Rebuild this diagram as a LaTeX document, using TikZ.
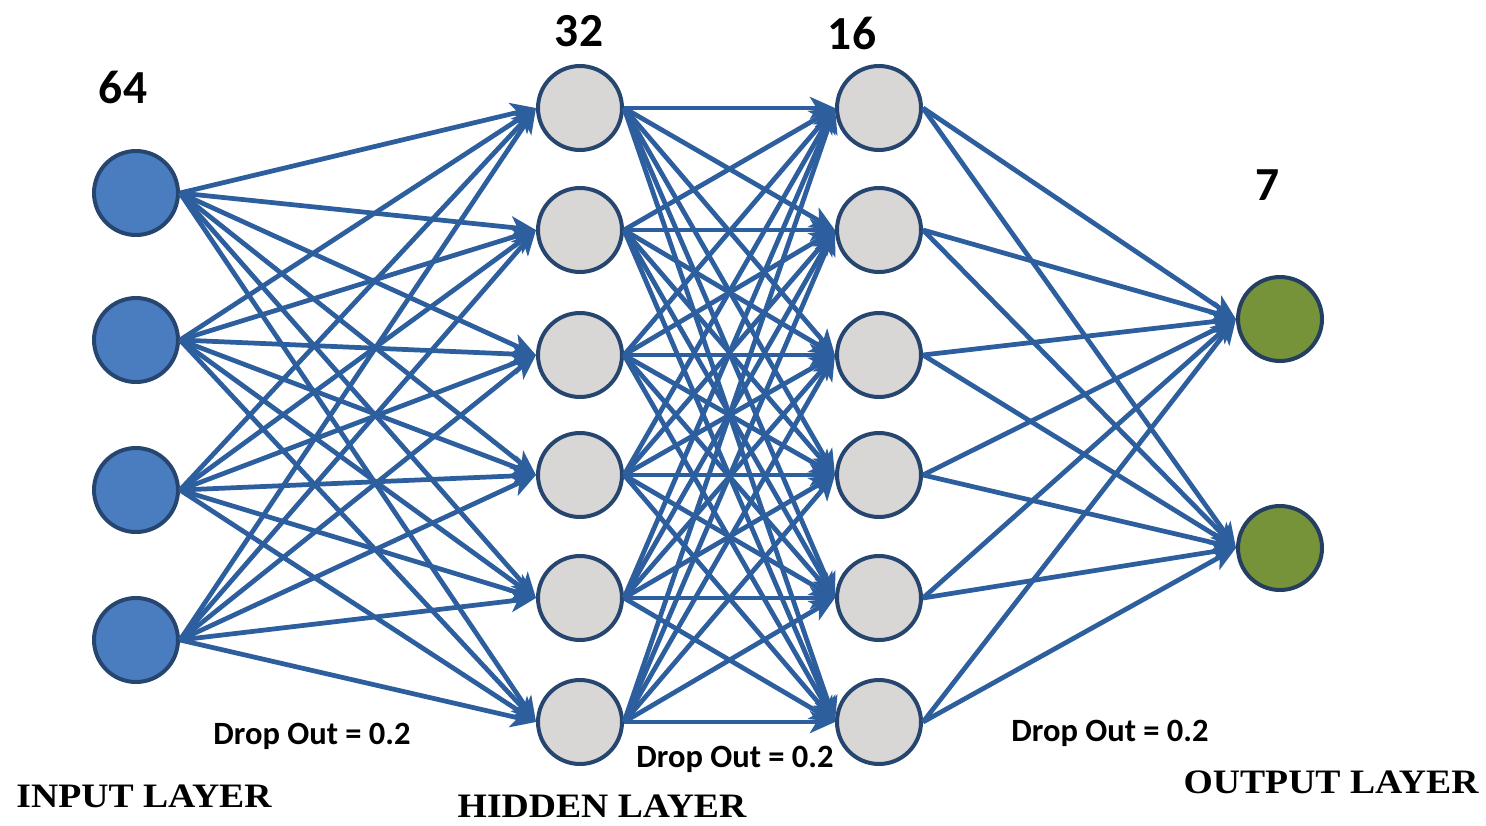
\documentclass[tikz,border=0pt]{standalone}
\usepackage{fontspec}
\setmainfont{Liberation Serif}
\newfontfamily\labelfont{Carlito}
\usetikzlibrary{arrows.meta}
\definecolor{edgeblue}{HTML}{2D5E9E}
\definecolor{ringblue}{HTML}{264670}
\definecolor{inblue}{HTML}{4A7DC0}
\definecolor{hidgray}{HTML}{D9D7D5}
\definecolor{outgreen}{HTML}{76933A}
\definecolor{outring}{HTML}{243F62}
\begin{document}
\begin{tikzpicture}[x=0.02cm,y=-0.02cm,
  neuron/.style={circle, minimum size=1.68cm, inner sep=0pt, line width=0.08cm, draw=ringblue},
  inneuron/.style={neuron, fill=inblue},
  hidneuron/.style={neuron, fill=hidgray},
  outneuron/.style={neuron, fill=outgreen, draw=outring},
  link/.style={draw=edgeblue, line width=0.095cm, -{Stealth[length=0.5cm,width=0.44cm,inset=0.13cm]}},
  count/.style={font=\labelfont\bfseries\fontsize{27}{30}\selectfont, inner sep=0pt},
  drop/.style={font=\labelfont\bfseries\fontsize{18.5}{21}\selectfont, inner sep=0pt},
  layer/.style={font=\bfseries\fontsize{19.5}{22}\selectfont, inner sep=0pt}]
\useasboundingbox (0,0) rectangle (1486,825);

% input layer
\foreach \y [count=\i] in {193,340,490,640}
  \node[inneuron] (i\i) at (136,\y) {};
% two hidden layers
\foreach \y [count=\i] in {108,230,355,475,598,722} {
  \node[hidneuron] (a\i) at (580,\y) {};
  \node[hidneuron] (b\i) at (879,\y) {};
}
% output layer
\node[outneuron] (o1) at (1280,319) {};
\node[outneuron] (o2) at (1280,548) {};

% fully connected links, from the right side of each unit to the left side of the next
\foreach \s in {1,...,4}
  \foreach \t in {1,...,6}
    \draw[link] (i\s.east) -- (a\t.west);
\foreach \s in {1,...,6}
  \foreach \t in {1,...,6}
    \draw[link] (a\s.east) -- (b\t.west);
\foreach \s in {1,...,6}
  \foreach \t in {1,2}
    \draw[link] (b\s.east) -- (o\t.west);

% layer sizes
\node[count] (n64) at (123,87) {64};
\node[count] (n32) at (579,31) {32};
\node[count] (n16) at (852,33) {16};
\node[count] (n7) at (1267,185) {7};

% dropout notes
\node[drop] (d1) at (312,736) {Drop Out = 0.2};
\node[drop] (d2) at (735,759) {Drop Out = 0.2};
\node[drop] (d3) at (1110,733) {Drop Out = 0.2};

% layer titles
\node[layer] (tin) at (144,796) {\scalebox{1.1}[1]{INPUT LAYER}};
\node[layer] (thid) at (602,806) {\scalebox{1.1}[1]{HIDDEN LAYER}};
\node[layer] (tout) at (1331,782) {\scalebox{1.1}[1]{OUTPUT LAYER}};
\end{tikzpicture}
\end{document}
